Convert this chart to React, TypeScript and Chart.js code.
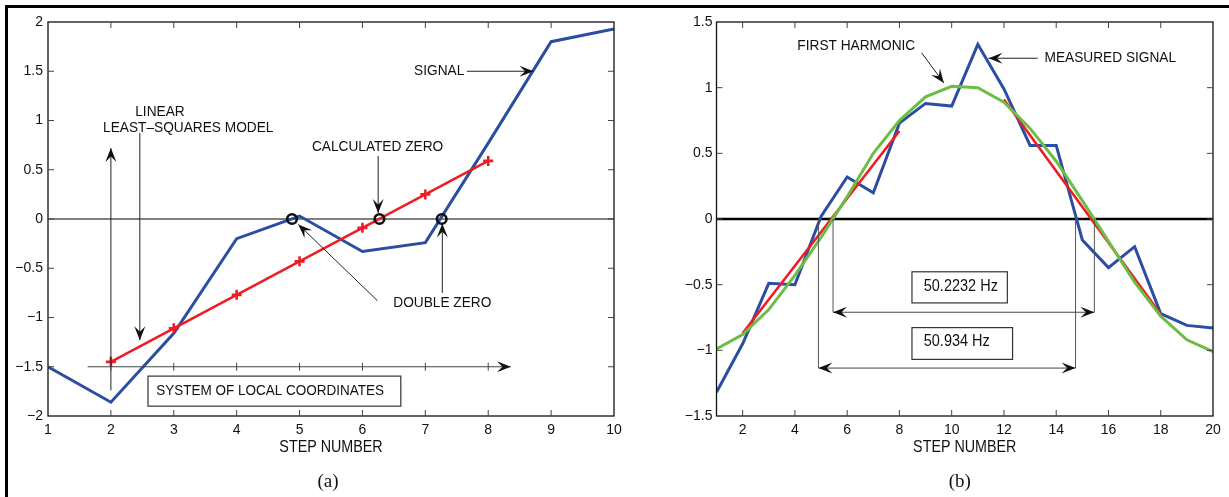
import { useEffect, useRef } from "react";
import { Chart, registerables } from "chart.js";

Chart.register(...registerables);

// ---------- data: panel (a) ----------
const stepsA = [1, 2, 3, 4, 5, 6, 7, 8, 9, 10];
const signalA = [-1.5, -1.86, -1.16, -0.2, 0.03, -0.33, -0.24, 0.77, 1.8, 1.93];
const modelStepsA = [2, 3, 4, 5, 6, 7, 8];
const modelA = [-1.45, -1.11, -0.77, -0.43, -0.09, 0.25, 0.59];
const zerosA = [4.88, 6.27, 7.26];
const xTicksA = [1, 2, 3, 4, 5, 6, 7, 8, 9, 10];
const yTicksA = [-2, -1.5, -1, -0.5, 0, 0.5, 1, 1.5, 2];

// ---------- data: panel (b) ----------
const stepsB = [1, 2, 3, 4, 5, 6, 7, 8, 9, 10, 11, 12, 13, 14, 15, 16, 17, 18, 19, 20];
const measuredB = [-1.32, -0.95, -0.49, -0.5, 0.02, 0.32, 0.2, 0.73, 0.88, 0.86, 1.33, 0.99, 0.56, 0.56, -0.16, -0.37, -0.21, -0.72, -0.81, -0.83];
const harmonicB = [-0.99, -0.88, -0.69, -0.43, -0.14, 0.17, 0.5, 0.75, 0.93, 1.01, 1.0, 0.89, 0.69, 0.44, 0.14, -0.17, -0.48, -0.74, -0.92, -1.01];
const fitStepsB1 = [2, 8];
const fitB1 = [-0.87, 0.67];
const fitStepsB2 = [12, 18];
const fitB2 = [0.91, -0.725];
const xTicksB = [2, 4, 6, 8, 10, 12, 14, 16, 18, 20];
const yTicksB = [-1.5, -1, -0.5, 0, 0.5, 1, 1.5];

const BLUE = "#2b4ea2";
const RED = "#ee1c24";
const GREEN = "#6cbd45";
const SANS = '"Liberation Sans", Arial, Helvetica, sans-serif';
const SERIF = '"Liberation Serif", "Times New Roman", serif';

type Txt = { t: string; x: number; y: number; align?: CanvasTextAlign; size?: number };
type Arr = { x1: number; y1: number; x2: number; y2: number; both?: boolean; ticks?: number[]; color?: string };
type Seg = { x1: number; y1: number; x2: number; y2: number };
type Box = { x1: number; x2: number; y1: number; y2: number; text: string; tx: number; ty: number; size: number };

type Ann = {
  label: string;
  labelShift: number;
  zeroWidth: number;
  texts: Txt[];
  arrows: Arr[];
  segs: Seg[];
  boxes: Box[];
  xTicks: number[];
  yTicks: number[];
};

const annA: Ann = {
  label: "(a)",
  labelShift: -3,
  zeroWidth: 1,
  texts: [
    { t: "SIGNAL", x: 7.22, y: 1.5 },
    { t: "LINEAR", x: 2.78, y: 1.09 },
    { t: "LEAST\u2013SQUARES MODEL", x: 3.23, y: 0.925 },
    { t: "CALCULATED ZERO", x: 6.24, y: 0.73 },
    { t: "DOUBLE ZERO", x: 7.27, y: -0.855 },
  ],
  arrows: [
    { x1: 7.66, y1: 1.5, x2: 8.72, y2: 1.5 },
    { x1: 2, y1: -1.74, x2: 2, y2: 0.72 },
    { x1: 2.46, y1: 0.875, x2: 2.46, y2: -1.23 },
    { x1: 6.25, y1: 0.64, x2: 6.25, y2: 0.06 },
    { x1: 6.24, y1: -0.83, x2: 4.98, y2: -0.055 },
    { x1: 7.27, y1: -0.75, x2: 7.27, y2: -0.045 },
    { x1: 1.63, y1: -1.5, x2: 8.36, y2: -1.5, ticks: [2, 3, 4, 5, 6, 7, 8], color: "#444" },
  ],
  segs: [],
  boxes: [
    { x1: 2.59, x2: 6.61, y1: -1.595, y2: -1.9, text: "SYSTEM OF LOCAL COORDINATES", tx: 2.72, ty: -1.75, size: 13.5 },
  ],
  xTicks: xTicksA,
  yTicks: yTicksA,
};

const annB: Ann = {
  label: "(b)",
  labelShift: -5,
  zeroWidth: 2.6,
  texts: [
    { t: "FIRST HARMONIC", x: 6.35, y: 1.32 },
    { t: "MEASURED SIGNAL", x: 16.07, y: 1.224 },
  ],
  arrows: [
    { x1: 8.85, y1: 1.265, x2: 9.7, y2: 1.036 },
    { x1: 13.29, y1: 1.224, x2: 11.41, y2: 1.224 },
    { x1: 5.46, y1: -0.71, x2: 15.46, y2: -0.71, both: true, color: "#444" },
    { x1: 4.9, y1: -1.135, x2: 14.74, y2: -1.135, both: true, color: "#444" },
  ],
  segs: [
    { x1: 4.9, y1: 0, x2: 4.9, y2: -1.135 },
    { x1: 5.46, y1: 0, x2: 5.46, y2: -0.71 },
    { x1: 14.74, y1: 0, x2: 14.74, y2: -1.135 },
    { x1: 15.46, y1: 0, x2: 15.46, y2: -0.71 },
  ],
  boxes: [
    { x1: 8.48, x2: 12.13, y1: -0.402, y2: -0.639, text: "50.2232 Hz", tx: 8.93, ty: -0.515, size: 14.5 },
    { x1: 8.48, x2: 12.33, y1: -0.827, y2: -1.069, text: "50.934 Hz", tx: 8.93, ty: -0.935, size: 14.5 },
  ],
  xTicks: xTicksB,
  yTicks: yTicksB,
};

function drawHead(ctx: CanvasRenderingContext2D, x: number, y: number, ang: number) {
  const L = 14;
  const W = 5.5;
  ctx.save();
  ctx.translate(x, y);
  ctx.rotate(ang);
  ctx.beginPath();
  ctx.moveTo(0, 0);
  ctx.lineTo(-L, -W);
  ctx.lineTo(-L * 0.6, 0);
  ctx.lineTo(-L, W);
  ctx.closePath();
  ctx.fill();
  ctx.restore();
}

function textS(ctx: CanvasRenderingContext2D, s: string, x: number, y: number, sy: number) {
  ctx.save();
  ctx.translate(x, y);
  ctx.scale(1, sy);
  ctx.fillText(s, 0, 0);
  ctx.restore();
}

function makePlugin(ann: Ann) {
  return {
    id: "matlabDecor",
    beforeDatasetsDraw(chart: any) {
      const { ctx, chartArea } = chart;
      const ys = chart.scales.y;
      ctx.save();
      ctx.strokeStyle = "#000";
      ctx.lineWidth = ann.zeroWidth;
      const y0 = ys.getPixelForValue(0);
      ctx.beginPath();
      ctx.moveTo(chartArea.left, y0);
      ctx.lineTo(chartArea.right, y0);
      ctx.stroke();
      ctx.restore();
    },
    afterDatasetsDraw(chart: any) {
      const { ctx, chartArea } = chart;
      const xs = chart.scales.x;
      const ys = chart.scales.y;
      const px = (v: number) => xs.getPixelForValue(v);
      const py = (v: number) => ys.getPixelForValue(v);
      ctx.save();

      // box
      ctx.strokeStyle = "#111";
      ctx.lineWidth = 1.3;
      ctx.strokeRect(chartArea.left, chartArea.top, chartArea.right - chartArea.left, chartArea.bottom - chartArea.top);

      // inward ticks
      ctx.strokeStyle = "#444";
      ctx.lineWidth = 1;
      const tl = 6;
      ctx.beginPath();
      ann.xTicks.forEach((v) => {
        const x = px(v);
        if (x <= chartArea.left + 1 || x >= chartArea.right - 1) return;
        ctx.moveTo(x, chartArea.bottom);
        ctx.lineTo(x, chartArea.bottom - tl);
        ctx.moveTo(x, chartArea.top);
        ctx.lineTo(x, chartArea.top + tl);
      });
      ann.yTicks.forEach((v) => {
        const y = py(v);
        if (y <= chartArea.top + 1 || y >= chartArea.bottom - 1) return;
        ctx.moveTo(chartArea.left, y);
        ctx.lineTo(chartArea.left + tl, y);
        ctx.moveTo(chartArea.right, y);
        ctx.lineTo(chartArea.right - tl, y);
      });
      ctx.stroke();

      // thin segments
      ctx.strokeStyle = "#555";
      ctx.lineWidth = 1;
      ann.segs.forEach((s) => {
        ctx.beginPath();
        ctx.moveTo(px(s.x1), py(s.y1));
        ctx.lineTo(px(s.x2), py(s.y2));
        ctx.stroke();
      });

      // arrows
      ann.arrows.forEach((a) => {
        const x1 = px(a.x1), y1 = py(a.y1), x2 = px(a.x2), y2 = py(a.y2);
        const ang = Math.atan2(y2 - y1, x2 - x1);
        ctx.strokeStyle = a.color || "#222";
        ctx.fillStyle = "#111";
        ctx.lineWidth = 1;
        ctx.beginPath();
        ctx.moveTo(x1, y1);
        ctx.lineTo(x2, y2);
        ctx.stroke();
        if (a.ticks) {
          ctx.beginPath();
          a.ticks.forEach((t) => {
            const tx = px(t);
            ctx.moveTo(tx, y1 - 4);
            ctx.lineTo(tx, y1 + 4);
          });
          ctx.stroke();
        }
        drawHead(ctx, x2, y2, ang);
        if (a.both) drawHead(ctx, x1, y1, ang + Math.PI);
      });

      // boxes
      ann.boxes.forEach((b) => {
        const x1 = px(b.x1), x2 = px(b.x2), y1 = py(b.y1), y2 = py(b.y2);
        ctx.fillStyle = "#fff";
        ctx.fillRect(x1, y1, x2 - x1, y2 - y1);
        ctx.strokeStyle = "#333";
        ctx.lineWidth = 1.2;
        ctx.strokeRect(x1, y1, x2 - x1, y2 - y1);
        ctx.fillStyle = "#111";
        ctx.font = `${b.size}px ${SANS}`;
        ctx.textAlign = "left";
        ctx.textBaseline = "middle";
        textS(ctx, b.text, px(b.tx), py(b.ty), 1.08);
      });

      // texts
      ctx.fillStyle = "#111";
      ann.texts.forEach((t) => {
        ctx.font = `${t.size || 13.7}px ${SANS}`;
        ctx.textAlign = t.align || "center";
        ctx.textBaseline = "middle";
        textS(ctx, t.t, px(t.x), py(t.y), 1.1);
      });

      // axis title and panel label
      const cx = (chartArea.left + chartArea.right) / 2;
      ctx.font = `14.3px ${SANS}`;
      ctx.textAlign = "center";
      ctx.textBaseline = "alphabetic";
      textS(ctx, "STEP NUMBER", cx, 451.5, 1.13);
      ctx.font = `19px ${SERIF}`;
      ctx.fillText(ann.label, cx + ann.labelShift, 487);

      ctx.restore();
    },
  };
}

const fmt = (v: any) => {
  const n = Number(v);
  if (n < 0) return "\u2212" + String(Math.abs(n));
  return String(n);
};

function buildOptions(
  xMin: number,
  xMax: number,
  yMin: number,
  yMax: number,
  xTicks: number[],
  yTicks: number[],
  yAxisWidth: number,
  padRight: number,
  yLabelPad: number
): any {
  const font = { family: SANS, size: 14 };
  return {
    animation: false,
    responsive: false,
    maintainAspectRatio: false,
    devicePixelRatio: 1,
    events: [],
    layout: { padding: { left: 0, top: 22, right: padRight, bottom: 0 }, autoPadding: false },
    plugins: { legend: { display: false }, tooltip: { enabled: false }, title: { display: false } },
    scales: {
      x: {
        type: "linear",
        min: xMin,
        max: xMax,
        afterBuildTicks: (s: any) => {
          s.ticks = xTicks.map((v) => ({ value: v }));
        },
        afterFit: (s: any) => {
          s.height = 497 - 416;
        },
        grid: { display: false, drawTicks: false },
        border: { display: false },
        ticks: { padding: 6, font, color: "#111", maxRotation: 0, minRotation: 0, autoSkip: false, callback: fmt },
      },
      y: {
        type: "linear",
        min: yMin,
        max: yMax,
        afterBuildTicks: (s: any) => {
          s.ticks = yTicks.map((v) => ({ value: v }));
        },
        afterFit: (s: any) => {
          s.width = yAxisWidth;
        },
        grid: { display: false, drawTicks: false },
        border: { display: false },
        ticks: { padding: yLabelPad, font, color: "#111", autoSkip: false, callback: fmt },
      },
    },
  };
}

function App() {
  const refA = useRef<HTMLCanvasElement | null>(null);
  const refB = useRef<HTMLCanvasElement | null>(null);

  useEffect(() => {
    if (!refA.current || !refB.current) return;

    const chartA = new Chart(refA.current, {
      type: "line",
      data: {
        datasets: [
          {
            label: "zeros",
            data: zerosA.map((x) => ({ x, y: 0 })),
            showLine: false,
            pointStyle: "circle",
            pointRadius: 4.8,
            pointBorderWidth: 2.6,
            pointBorderColor: "#111",
            pointBackgroundColor: "rgba(0,0,0,0)",
            borderColor: "#111",
          },
          {
            label: "model",
            data: modelStepsA.map((x, i) => ({ x, y: modelA[i] })),
            borderColor: RED,
            borderWidth: 2.5,
            pointStyle: "cross",
            pointRadius: 5,
            pointBorderWidth: 2.6,
            pointBorderColor: RED,
            pointBackgroundColor: RED,
          },
          {
            label: "signal",
            data: stepsA.map((x, i) => ({ x, y: signalA[i] })),
            borderColor: BLUE,
            borderWidth: 3,
            pointRadius: 0,
          },
        ],
      },
      options: buildOptions(1, 10, -2, 2, xTicksA, yTicksA, 48, 26, 5),
      plugins: [makePlugin(annA)],
    } as any);

    const chartB = new Chart(refB.current, {
      type: "line",
      data: {
        datasets: [
          {
            label: "harmonic",
            data: stepsB.map((x, i) => ({ x, y: harmonicB[i] })),
            borderColor: GREEN,
            borderWidth: 3,
            pointRadius: 0,
          },
          {
            label: "fit1",
            data: fitStepsB1.map((x, i) => ({ x, y: fitB1[i] })),
            borderColor: RED,
            borderWidth: 2.6,
            pointRadius: 0,
          },
          {
            label: "fit2",
            data: fitStepsB2.map((x, i) => ({ x, y: fitB2[i] })),
            borderColor: RED,
            borderWidth: 2.6,
            pointRadius: 0,
          },
          {
            label: "measured",
            data: stepsB.map((x, i) => ({ x, y: measuredB[i] })),
            borderColor: BLUE,
            borderWidth: 3,
            pointRadius: 0,
          },
        ],
      },
      options: buildOptions(1, 20, -1.5, 1.5, xTicksB, yTicksB, 96.5, 16, 4),
      plugins: [makePlugin(annB)],
    } as any);

    return () => {
      chartA.destroy();
      chartB.destroy();
    };
  }, []);

  return (
    <div style={{ position: "absolute", left: 0, top: 0, width: 1229, height: 497, background: "#fff", overflow: "hidden" }}>
      <div style={{ position: "absolute", left: 5, top: 5, width: 1224, height: 3, background: "#000" }} />
      <div style={{ position: "absolute", left: 5, top: 5, width: 3, height: 492, background: "#000" }} />
      <canvas ref={refA} width={640} height={497} style={{ position: "absolute", left: 0, top: 0, width: 640, height: 497 }} />
      <canvas ref={refB} width={609} height={497} style={{ position: "absolute", left: 620, top: 0, width: 609, height: 497 }} />
    </div>
  );
}

export default App;
